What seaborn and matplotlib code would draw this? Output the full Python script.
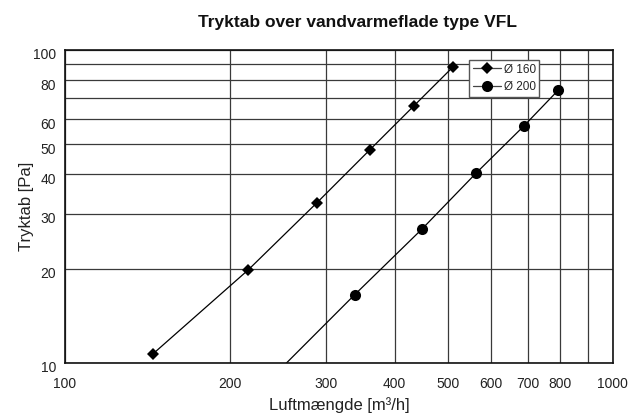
import matplotlib
matplotlib.use("Agg")
import matplotlib.pyplot as plt
import matplotlib.transforms as mtransforms
from matplotlib.ticker import FixedLocator, FixedFormatter, NullLocator
import seaborn as sns
import pandas as pd

# Data
x_160 = [145, 216, 288, 360, 434, 510]
y_160 = [10.7, 19.8, 32.4, 47.9, 66.4, 88.0]
x_200 = [230, 338, 448, 564, 688, 796]
y_200 = [8.4, 16.5, 26.7, 40.5, 57.1, 74.5]
series_names = ["Ø 160", "Ø 200"]

x_ticks = [100, 200, 300, 400, 500, 600, 700, 800, 900, 1000]
x_labels = ["100", "200", "300", "400", "500", "600", "700", "800", "", "1000"]
y_ticks = [10, 20, 30, 40, 50, 60, 70, 80, 90, 100]
y_labels = ["10", "20", "30", "40", "50", "60", "", "80", "", "100"]

df = pd.DataFrame({
    "x": x_160 + x_200,
    "y": y_160 + y_200,
    "serie": [series_names[0]] * len(x_160) + [series_names[1]] * len(x_200),
})

sns.set_theme(style="white")
plt.rcParams["font.family"] = ["Liberation Sans", "DejaVu Sans"]

fig = plt.figure(figsize=(6.41, 4.15), dpi=100)
ax = fig.add_axes([65 / 641, 1 - 362.7 / 415, (612.7 - 65) / 641, (362.7 - 50) / 415])

sns.lineplot(data=df[df.serie == series_names[0]], x="x", y="y", color="black",
             marker="D", markersize=6.5, linewidth=0.9, ax=ax, label=series_names[0],
             markeredgewidth=0, sort=False)
sns.lineplot(data=df[df.serie == series_names[1]], x="x", y="y", color="black",
             marker="o", markersize=8, linewidth=0.9, ax=ax, label=series_names[1],
             markeredgewidth=0, sort=False)

ax.set_xscale("log")
ax.set_yscale("log")
ax.set_xlim(100, 1000)
ax.set_ylim(10, 100)
ax.xaxis.set_major_locator(FixedLocator(x_ticks))
ax.xaxis.set_major_formatter(FixedFormatter(x_labels))
ax.yaxis.set_major_locator(FixedLocator(y_ticks))
ax.yaxis.set_major_formatter(FixedFormatter(y_labels))
ax.xaxis.set_minor_locator(NullLocator())
ax.yaxis.set_minor_locator(NullLocator())

ax.grid(True, which="major", color="#3a3a3a", linewidth=0.9)
ax.tick_params(axis="both", which="both", length=0, labelsize=10, colors="#222222")
ax.tick_params(axis="x", pad=10)
ax.tick_params(axis="y", pad=6.5)
for lab in ax.get_yticklabels():
    lab.set_transform(lab.get_transform() + mtransforms.ScaledTranslation(0, -4 / 100, fig.dpi_scale_trans))
for sp in ax.spines.values():
    sp.set_color("#111111")
    sp.set_linewidth(1.2)

ax.set_xlabel("Luftmængde [m³/h]", fontsize=12, color="#222222", labelpad=5)
ax.set_ylabel("Tryktab [Pa]", fontsize=12, color="#222222", labelpad=-1)
fig.text(358 / 641, 1 - 27 / 415, "Tryktab over vandvarmeflade type VFL",
         ha="center", va="baseline", fontsize=12.5, fontweight="bold", color="#111111")

leg = ax.legend(loc="upper left", bbox_to_anchor=((469 - 65) / (612.7 - 65), 1 - (60 - 50) / 312.7),
                frameon=True, fancybox=False, fontsize=8.5, handlelength=2.4,
                handletextpad=0.25, borderpad=0.3, labelspacing=0.5, borderaxespad=0)
leg.get_frame().set_edgecolor("#555555")
leg.get_frame().set_linewidth(1.0)
leg.get_frame().set_facecolor("white")
leg.get_frame().set_alpha(1)
for h in leg.get_lines():
    h.set_color("#444444")
    h.set_markerfacecolor("black")

fig.savefig("out.png", dpi=100)
